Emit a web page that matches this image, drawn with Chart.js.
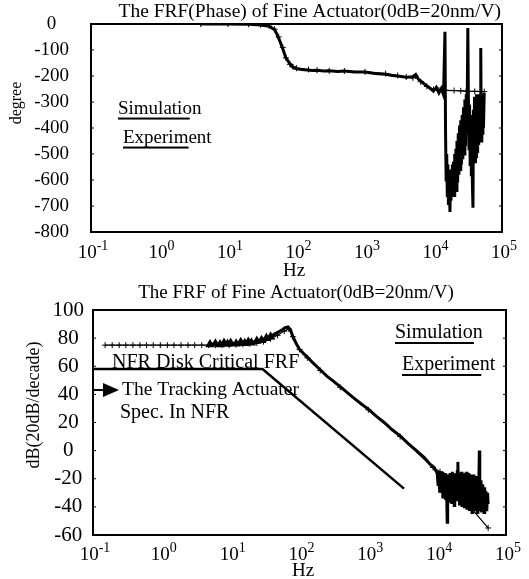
<!DOCTYPE html>
<html>
<head>
<meta charset="utf-8">
<script src="https://cdn.jsdelivr.net/npm/chart.js@4.4.1/dist/chart.umd.min.js"></script>
<style>
body { margin: 0; background: #fff; }
canvas { position: absolute; left: 0; }
#phaseChart { top: 0; }
#magChart { top: 280px; }
</style>
</head>
<body>
<canvas id="phaseChart" width="529" height="280"></canvas>
<canvas id="magChart" width="529" height="299"></canvas>
<script>
const SERIF = '"Liberation Serif", "Times New Roman", serif';

// x axis: one label per decade, 10^-1 .. 10^5
const decades = [0.1, 1, 10, 100, 1000, 10000, 100000];
const decadeExp = ['-1', '0', '1', '2', '3', '4', '5'];

// phase plot, [Hz, degree]
const phaseSim = [[4,0],[10,0],[20,-1],[30,-3],[40,-8],[48,-20],[55,-50],[63,-90],[70,-130],[80,-155],
  [89,-165],[100,-170],[150,-175],[200,-178],[300,-180],[500,-181],[1000,-184],[2000,-191],[3000,-198],
  [4000,-204],[5000,-207],[5500,-200],[6500,-222],[8000,-240],[10000,-252],[12000,-254],[15000,-255],
  [20000,-256],[25000,-257],[30000,-258],[40000,-259],[55000,-260]];
const phaseExp = [[4,0],[10,0],[20,-1],[30,-4],[40,-9],[48,-22],[52,-40],[58,-70],[63,-95],[70,-130],
  [80,-152],[89,-166],[100,-172],[130,-176],[170,-179],[200,-178],[250,-181],[300,-180],[400,-183],
  [500,-181],[700,-185],[1000,-185],[1400,-190],[2000,-193],[2500,-198],[3000,-200],[4000,-205],
  [5000,-203],[5500,-194],[6000,-212],[7000,-226],[8000,-238],[9000,-248],[10000,-258],[11000,-244],
  [12000,-265],[13000,-248],[14000,-272],[14700,-30],[15000,-420],[15300,-600],[15600,-500],[15900,-660],
  [16200,-540],[16500,-690],[16800,-570],[17100,-650],[17400,-723],[17700,-560],[18000,-680],[18300,-570],
  [18600,-660],[18900,-540],[19200,-640],[19600,-530],[20000,-660],[20400,-500],[20800,-630],[21200,-480],
  [21600,-640],[22000,-450],[22500,-610],[23000,-420],[23500,-580],[24000,-390],[24500,-560],[25000,-370],
  [25600,-540],[26200,-350],[26800,-520],[27400,-320],[28000,-500],[28700,-290],[29400,-470],[30100,-270],
  [30800,-420],[31700,-15],[32300,-280],[33000,-480],[33600,-310],[34300,-540],[35000,-350],[35700,-580],
  [36400,-400],[37000,-620],[37700,-707],[38300,-330],[39000,-500],[39700,-280],[40400,-530],[41100,-300],
  [41800,-510],[42500,-270],[43300,-490],[44100,-290],[44900,-460],[45700,-270],[46500,-440],[47300,-290],
  [48100,-410],[49000,-92],[49800,-450],[50700,-270],[51600,-420],[52600,-280],[53600,-400],[55000,-265]];

// magnitude plot, [Hz, dB]
const magSim = [[0.15,75],[0.19,75],[0.24,75],[0.3,75],[0.38,75],[0.48,75],[0.6,75],[0.75,75],[0.95,75],
  [1.2,75],[1.5,75],[1.9,75],[2.4,75],[3,75],[3.8,75],[4.8,75],[6,75],[7.5,75],[9.5,75],[12,75.3],
  [15,75.6],[19,76],[24,76.5],[30,77.5],[38,79.5],[48,82],[60,85],[70,86.5],[80,81],[100,72],[130,66],
  [200,57],[390,45],[1000,29],[2900,10],[8700,-12],[11000,-15],[20000,-29],[30000,-40],[55000,-55]];
const magExp = [[5,75.5],[6,76],[7,75.5],[8,76.5],[9,75.8],[10,76.5],[12,76],[14,77],[16,76.3],[18,77.2],
  [20,76.8],[24,78],[28,78.5],[33,80],[38,81],[44,83],[50,84.5],[56,86],[62,87.5],[68,88],[74,86],[80,81],
  [90,76],[100,72],[115,69],[130,66.5],[160,62],[200,57.5],[250,53],[300,50],[390,45.5],[500,41],
  [650,36.5],[800,33],[1000,29.5],[1300,24.5],[1700,20],[2200,15],[2900,10.5],[3800,5],[5000,0],
  [6500,-5],[8000,-10],[9000,-12],[10000,-16],[10300,-24],[10600,-15],[10900,-30],[11200,-17],[11500,-27],
  [11800,-15],[12100,-34],[12400,-18],[12700,-29],[13000,-16],[13300,-35],[13600,-20],[14000,-51],
  [14200,-17],[14500,-33],[14800,-19],[15100,-37],[15400,-16],[15700,-31],[16000,-18],[16300,-38],
  [16600,-15],[17000,-30],[17300,-18],[17700,-39],[18000,-16],[18400,-33],[18800,-19],[19200,-36],
  [19600,-15],[20000,-8],[20300,-28],[20700,-16],[21100,-39],[21500,-18],[22000,-34],[22400,-15],
  [22900,-40],[23400,-19],[23900,-35],[24400,-16],[24900,-41],[25400,-20],[26000,-37],[26500,-15],
  [27100,-42],[27700,-19],[28300,-38],[28900,-16],[29500,-43],[30100,-21],[30800,-39],[31400,-17],
  [32100,-44],[32800,-20],[33500,-40],[34200,-17],[35000,-43],[35700,-22],[36500,-38],[37300,-18],
  [38100,-44],[39000,-21],[39800,-40],[40400,-19],[41000,0],[41600,-23],[42400,-42],[43300,-21],
  [44200,-44],[45100,-24],[46000,-42],[47000,-27],[48000,-44],[49000,-26],[50000,-41],[51200,-29],
  [52500,-43],[54000,-30],[55000,-38]];
const nfrCritical = [[0.1,58],[29,58],[3300,-27]];

const toXY = pairs => pairs.map(p => ({ x: p[0], y: p[1] }));

function text(ctx, s, x, y, size, underline) {
  ctx.font = size + 'px ' + SERIF;
  ctx.fillText(s, x, y);
  if (underline) {
    const w = ctx.measureText(s).width;
    ctx.fillRect(x, y + size * 0.45, w * underline, 2);
  }
}

// frame, inner ticks and the decade labels
function drawAxes(chart, labelY) {
  const { ctx, chartArea: a, scales } = chart;
  ctx.save();
  ctx.strokeStyle = '#000';
  ctx.fillStyle = '#000';
  ctx.lineWidth = 2;
  ctx.strokeRect(a.left, a.top, a.right - a.left, a.bottom - a.top);
  ctx.lineWidth = 1;
  scales.y.ticks.forEach(t => {
    const y = scales.y.getPixelForValue(t.value);
    ctx.beginPath();
    ctx.moveTo(a.left, y); ctx.lineTo(a.left + 3, y);
    ctx.moveTo(a.right, y); ctx.lineTo(a.right - 3, y);
    ctx.stroke();
  });
  ctx.textBaseline = 'alphabetic';
  decades.forEach((v, i) => {
    const x = scales.x.getPixelForValue(v);
    ctx.font = '19px ' + SERIF;
    const w1 = ctx.measureText('10').width;
    ctx.font = '14px ' + SERIF;
    const w2 = ctx.measureText(decadeExp[i]).width;
    const left = x + 2 - (w1 + w2) / 2;
    ctx.font = '19px ' + SERIF;
    ctx.fillText('10', left, labelY);
    ctx.font = '14px ' + SERIF;
    ctx.fillText(decadeExp[i], left + w1, labelY - 8);
  });
  ctx.restore();
}

const phaseNotes = {
  id: 'phaseNotes',
  afterDraw(chart) {
    const ctx = chart.ctx;
    drawAxes(chart, 258);
    ctx.save();
    ctx.fillStyle = '#000';
    ctx.textBaseline = 'middle';
    ctx.textAlign = 'right';
    text(ctx, 'The FRF(Phase) of Fine Actuator(0dB=20nm/V)', 501, 12, 19.5);
    ctx.textAlign = 'left';
    text(ctx, 'Simulation', 118, 109, 19, 0.86);
    text(ctx, 'Experiment', 123, 138, 19, 0.74);
    ctx.textAlign = 'center';
    text(ctx, 'Hz', 294, 271, 19);
    ctx.translate(17, 103);
    ctx.rotate(-Math.PI / 2);
    text(ctx, 'degree', 0, 0, 16);
    ctx.restore();
  }
};

const magNotes = {
  id: 'magNotes',
  afterDraw(chart) {
    const ctx = chart.ctx;
    drawAxes(chart, 280);
    ctx.save();
    ctx.fillStyle = '#000';
    ctx.textBaseline = 'middle';
    ctx.textAlign = 'center';
    text(ctx, 'The FRF of Fine Actuator(0dB=20nm/V)', 296, 13, 19);
    ctx.textAlign = 'left';
    text(ctx, 'Simulation', 395, 53, 20, 0.9);
    text(ctx, 'Experiment', 402, 85, 20, 0.85);
    text(ctx, 'NFR Disk Critical FRF', 112, 83, 20);
    text(ctx, 'The Tracking Actuater', 122, 110, 19.5);
    text(ctx, 'Spec. In NFR', 120, 133, 20);
    // arrow pointing at the spec line
    ctx.lineWidth = 2;
    ctx.beginPath();
    ctx.moveTo(93, 110); ctx.lineTo(104, 110); ctx.stroke();
    ctx.beginPath();
    ctx.moveTo(103, 103); ctx.lineTo(119, 110); ctx.lineTo(103, 117); ctx.closePath(); ctx.fill();
    ctx.textAlign = 'center';
    text(ctx, 'Hz', 303, 291, 19);
    ctx.translate(34, 125);
    ctx.rotate(-Math.PI / 2);
    text(ctx, 'dB(20dB/decade)', 0, 0, 18);
    ctx.restore();
  }
};

function baseOptions(opts) {
  return {
    responsive: false,
    animation: false,
    layout: { padding: { right: opts.right, left: 0, top: opts.top, bottom: 0 } },
    plugins: {
      legend: { display: false },
      tooltip: { enabled: false }
    },
    scales: {
      x: {
        type: 'logarithmic',
        min: 0.1,
        max: 100000,
        ticks: { display: false },
        grid: { display: false, drawTicks: false },
        border: { display: false },
        afterFit: s => { s.height = opts.xHeight; }
      },
      y: {
        min: opts.yMin,
        max: opts.yMax,
        ticks: {
          stepSize: opts.yStep,
          autoSkip: false,
          color: '#000',
          crossAlign: 'center',
          padding: 0,
          font: { family: SERIF, size: opts.yFont }
        },
        // tick marks are hidden; their length only sets the label gap
        grid: { display: false, drawTicks: true, tickLength: opts.yGap },
        border: { display: false },
        afterFit: s => { s.width = opts.yWidth; }
      }
    }
  };
}

new Chart(document.getElementById('phaseChart'), {
  type: 'line',
  data: {
    datasets: [{
      data: toXY(phaseSim),
      borderColor: '#000',
      borderWidth: 1.2,
      pointStyle: 'cross',
      pointRadius: 3,
      pointBorderColor: '#000',
      pointBorderWidth: 1
    }, {
      data: toXY(phaseExp),
      borderColor: '#000',
      borderWidth: 3,
      pointRadius: 0
    }]
  },
  options: baseOptions({
    top: 24, right: 27, xHeight: 48, yWidth: 91,
    yMin: -800, yMax: 0, yStep: 100, yGap: 22, yFont: 19
  }),
  plugins: [phaseNotes]
});

new Chart(document.getElementById('magChart'), {
  type: 'line',
  data: {
    datasets: [{
      data: toXY(nfrCritical),
      borderColor: '#000',
      borderWidth: 2.5,
      pointRadius: 0
    }, {
      data: toXY(magSim),
      borderColor: '#000',
      borderWidth: 1.2,
      pointStyle: 'cross',
      pointRadius: 3,
      pointBorderColor: '#000',
      pointBorderWidth: 1
    }, {
      data: toXY(magExp),
      borderColor: '#000',
      borderWidth: 3,
      pointStyle: 'triangle',
      pointRadius: c => (c.raw && c.raw.x < 40 ? 2.5 : 0),
      pointBackgroundColor: '#000',
      pointBorderColor: '#000'
    }]
  },
  options: baseOptions({
    top: 30, right: 23, xHeight: 44, yWidth: 93,
    yMin: -60, yMax: 100, yStep: 20, yGap: 9, yFont: 21
  }),
  plugins: [magNotes]
});
</script>
</body>
</html>
